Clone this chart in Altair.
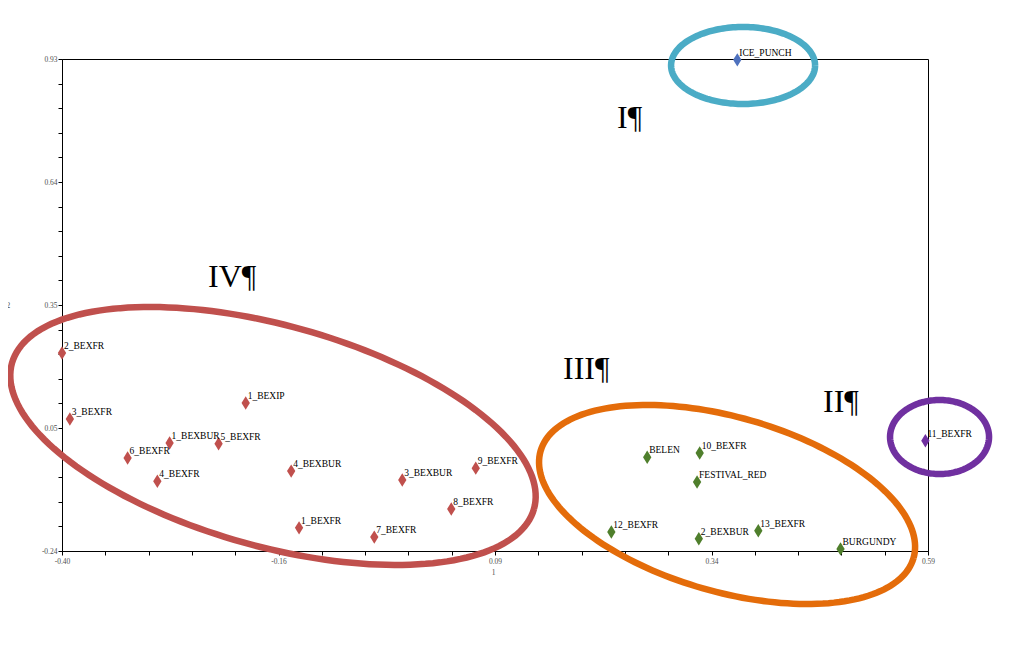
import altair as alt
import numpy as np
import pandas as pd

# ---- data ----
names = ["2_BEXFR", "3_BEXFR", "6_BEXFR", "4_BEXFR", "1_BEXBUR", "5_BEXFR", "1_BEXIP",
         "4_BEXBUR", "1_BEXFR", "7_BEXFR", "3_BEXBUR", "8_BEXFR", "9_BEXFR",
         "12_BEXFR", "BELEN", "10_BEXFR", "FESTIVAL_RED", "2_BEXBUR", "13_BEXFR", "BURGUNDY",
         "11_BEXFR", "ICE_PUNCH"]
dim1 = [-0.400, -0.391, -0.325, -0.291, -0.277, -0.221, -0.190,
        -0.138, -0.129, -0.043, -0.011, 0.045, 0.073,
        0.228, 0.269, 0.329, 0.326, 0.328, 0.396, 0.490,
        0.587, 0.372]
dim2 = [0.231, 0.074, -0.019, -0.074, 0.017, 0.015, 0.112,
        -0.050, -0.185, -0.207, -0.071, -0.140, -0.043,
        -0.195, -0.017, -0.007, -0.076, -0.211, -0.192, -0.235,
        0.022, 0.928]
group = ["IV"] * 13 + ["III"] * 7 + ["II", "I"]

group_names = ["I", "II", "III", "IV"]
group_colors = ["#4f72be", "#7030a0", "#4f7f2c", "#c0504d"]

# group annotation labels
ann_text = ["I¶", "II¶", "III¶", "IV¶"]
ann_x = [0.2345, 0.470, 0.1728, -0.2331]
ann_y = [0.766, 0.0906, 0.169, 0.3878]

# ellipses around the groups: centre (data units), semi-axes (px), tilt (deg)
ell_cx = [0.3786, 0.6032, 0.3603, -0.1588]
ell_cy = [0.9146, 0.0311, -0.1294, 0.0335]
ell_a = [72, 49.5, 194, 271]
ell_b = [38.5, 37, 87.3, 110.5]
ell_rot = [0, 0, 16.0, 15.6]
ell_colors = ["#4bacc6", "#7030a0", "#e46c0a", "#c0504d"]

# axes
x_min, x_max = -0.40, 0.59
y_min, y_max = -0.24, 0.93
x_major_labels = ["-0.40", "-0.16", "0.09", "0.34", "0.59"]
y_major_labels = ["-0.24", "0.05", "0.35", "0.64", "0.93"]

W, H = 866, 492

# ---- build tables ----
pts = pd.DataFrame({"name": names, "d1": dim1, "d2": dim2, "group": group})
ann = pd.DataFrame({"t": ann_text, "d1": ann_x, "d2": ann_y})

kx = W / (x_max - x_min)
ky = H / (y_max - y_min)
rows = []
t = np.linspace(0, 2 * np.pi, 181)
for i, g in enumerate(group_names):
    th = np.radians(ell_rot[i])
    dxp = ell_a[i] * np.cos(t) * np.cos(th) - ell_b[i] * np.sin(t) * np.sin(th)
    dyp = ell_a[i] * np.cos(t) * np.sin(th) + ell_b[i] * np.sin(t) * np.cos(th)
    for k in range(len(t)):
        rows.append({"ell": g, "k": k, "d1": ell_cx[i] + dxp[k] / kx, "d2": ell_cy[i] - dyp[k] / ky})
ell = pd.DataFrame(rows)

x_ticks = [round(x_min + i * (x_max - x_min) / 20, 6) for i in range(21)]
y_ticks = [round(y_min + i * (y_max - y_min) / 20, 6) for i in range(21)]


def label_expr(ticks, labels):
    parts = []
    for j, lab in enumerate(labels):
        v = ticks[j * 5]
        parts.append(f"abs(datum.value - ({v})) < 0.001 ? '{lab}'")
    return " : ".join(parts) + " : ''"


xs = alt.Scale(domain=[x_min, x_max], nice=False, zero=False)
ys = alt.Scale(domain=[y_min, y_max], nice=False, zero=False)

x_axis = alt.Axis(values=x_ticks, labelExpr=label_expr(x_ticks, x_major_labels), title="1",
                  grid=False, tickSize=4, tickColor="black", domainColor="black",
                  labelFont="Liberation Serif", labelFontSize=7.5, labelColor="#505050",
                  labelPadding=2, labelFlush=False, labelOverlap=False, labelSeparation=0,
                  titleFont="Liberation Serif", titleFontSize=7.5, titleFontWeight="normal",
                  titleColor="#505050", titleX=431, titleY=21, titleBaseline="middle")
y_axis = alt.Axis(values=y_ticks, labelExpr=label_expr(y_ticks, y_major_labels), title="2",
                  grid=False, tickSize=4, tickColor="black", domainColor="black",
                  labelFont="Liberation Serif", labelFontSize=7.5, labelColor="#505050",
                  labelPadding=1, labelFlush=False, labelOverlap=False, labelSeparation=0,
                  titleFont="Liberation Serif", titleFontSize=7.5, titleFontWeight="normal",
                  titleColor="#505050", titleAngle=0, titleX=-56, titleY=246,
                  titleAlign="left", titleBaseline="middle")

X = alt.X("d1:Q", scale=xs, axis=x_axis)
Y = alt.Y("d2:Q", scale=ys, axis=y_axis)

diamond = "M0,-1L0.62,0L0,1L-0.62,0Z"

ellipses = alt.Chart(ell).mark_line(strokeWidth=6.5, clip=False).encode(
    x=X, y=Y,
    order="k:Q",
    detail="ell:N",
    color=alt.Color("ell:N", scale=alt.Scale(domain=group_names, range=ell_colors), legend=None),
)

points = alt.Chart(pts).mark_point(shape=diamond, filled=True, size=180, opacity=1).encode(
    x=X, y=Y,
    fill=alt.Fill("group:N", scale=alt.Scale(domain=group_names, range=group_colors), legend=None),
)

labels = alt.Chart(pts).mark_text(align="left", baseline="alphabetic", dx=2, dy=-4,
                                  font="Liberation Serif", fontSize=9.5, color="black").encode(
    x=X, y=Y, text="name:N",
)

roman = alt.Chart(ann).mark_text(align="left", baseline="alphabetic", font="Liberation Serif",
                                 fontSize=32, color="black").encode(
    x=X, y=Y, text="t:N",
)

chart = alt.layer(ellipses, points, labels, roman).resolve_scale(
    color="independent", fill="independent"
).properties(
    width=W, height=H,
    autosize=alt.AutoSizeParams(type="none"),
    padding={"left": 54, "top": 51, "right": 70, "bottom": 60},
    background="white",
).configure_view(stroke="black", strokeWidth=1).configure_axis(labelOverlap=False)

chart.save("out.html", embed_options={"renderer": "svg", "actions": False})
